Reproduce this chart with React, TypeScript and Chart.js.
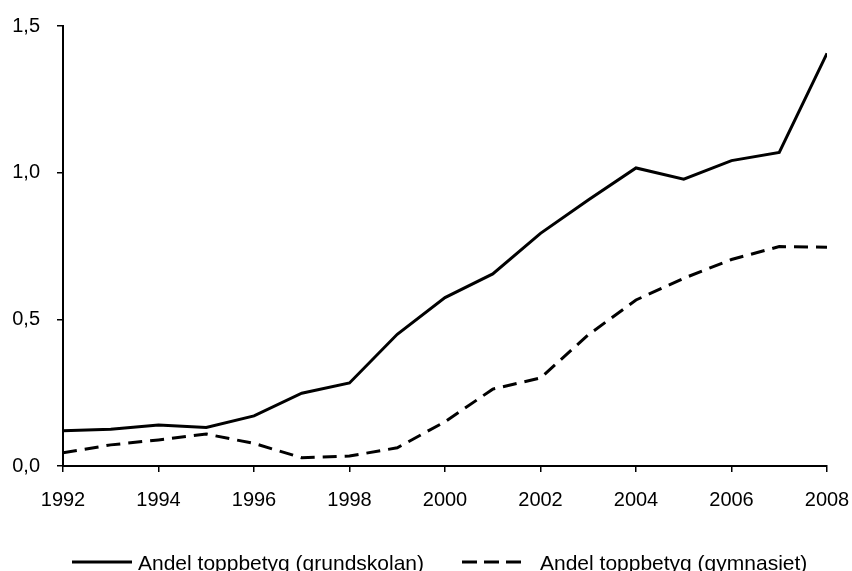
import React, { useEffect, useRef } from "react";
import { Chart, registerables } from "chart.js";

Chart.register(...registerables);

const years = [1992, 1993, 1994, 1995, 1996, 1997, 1998, 1999, 2000, 2001, 2002, 2003, 2004, 2005, 2006, 2007, 2008];
const grundskolan = [0.120, 0.125, 0.140, 0.131, 0.171, 0.248, 0.283, 0.449, 0.574, 0.655, 0.793, 0.907, 1.016, 0.978, 1.041, 1.069, 1.407];
const gymnasiet = [0.045, 0.072, 0.089, 0.109, 0.077, 0.028, 0.034, 0.062, 0.151, 0.262, 0.300, 0.447, 0.566, 0.640, 0.704, 0.748, 0.746];
const seriesLabels = ["Andel toppbetyg (grundskolan)", "Andel toppbetyg (gymnasiet)"];

const FONT = "'Liberation Sans', Arial, sans-serif";
const DASH = [14, 8];

const legendPlugin = {
  id: "customLegend",
  afterDraw(chart: any) {
    const ctx = chart.ctx;
    const lineY = 562;
    const textY = 570;
    const items = [
      { x0: 72, x1: 132, tx: 138 },
      { x0: 462, x1: 521, tx: 540 },
    ];
    chart.data.datasets.forEach((ds: any, i: number) => {
      const it = items[i];
      ctx.save();
      ctx.strokeStyle = "#000";
      ctx.lineWidth = 3;
      ctx.lineCap = "butt";
      ctx.setLineDash(ds.borderDash ? [15, 7] : []);
      ctx.beginPath();
      ctx.moveTo(it.x0, lineY);
      ctx.lineTo(it.x1, lineY);
      ctx.stroke();
      ctx.setLineDash([]);
      ctx.fillStyle = "#000";
      ctx.font = `21px ${FONT}`;
      ctx.textBaseline = "alphabetic";
      ctx.textAlign = "left";
      ctx.fillText(ds.label, it.tx, textY);
      ctx.restore();
    });
  },
};

export default function App() {
  const ref = useRef<HTMLCanvasElement | null>(null);
  useEffect(() => {
    if (!ref.current) return;
    const chart = new Chart(ref.current, {
      type: "line",
      data: {
        datasets: [
          {
            label: seriesLabels[0],
            data: years.map((yr, i) => ({ x: yr, y: grundskolan[i] })),
            borderColor: "#000",
            borderWidth: 3,
            pointRadius: 0,
            tension: 0,
            fill: false,
          },
          {
            label: seriesLabels[1],
            data: years.map((yr, i) => ({ x: yr, y: gymnasiet[i] })),
            borderColor: "#000",
            borderWidth: 3,
            borderDash: DASH,
            borderCapStyle: "butt",
            pointRadius: 0,
            tension: 0,
            fill: false,
          },
        ],
      },
      options: {
        responsive: false,
        animation: false,
        devicePixelRatio: 1,
        layout: { padding: { top: 26, right: 25, bottom: 0, left: 0 } },
        plugins: { legend: { display: false }, tooltip: { enabled: false } },
        scales: {
          x: {
            type: "linear",
            min: 1992,
            max: 2008,
            afterFit: (s: any) => { s.height = 105; s.paddingLeft = 0; s.paddingRight = 0; },
            ticks: {
              stepSize: 2,
              color: "#000",
              font: { family: FONT, size: 20 },
              padding: 16,
              maxRotation: 0,
              callback: (v: any) => String(v),
            },
            grid: { drawOnChartArea: false, drawTicks: true, tickLength: 6, color: "#000", lineWidth: 1.5 },
            border: { display: true, color: "#000", width: 2 },
          },
          y: {
            min: 0,
            max: 1.5,
            afterFit: (s: any) => { s.width = 63; s.paddingTop = 0; s.paddingBottom = 0; },
            ticks: {
              stepSize: 0.5,
              color: "#000",
              font: { family: FONT, size: 20 },
              padding: 17,
              callback: (v: any) => Number(v).toFixed(1).replace(".", ","),
            },
            grid: { drawOnChartArea: false, drawTicks: true, tickLength: 6, color: "#000", lineWidth: 1.5 },
            border: { display: true, color: "#000", width: 2 },
          },
        },
      },
      plugins: [legendPlugin],
    });
    return () => chart.destroy();
  }, []);
  return (
    <div style={{ position: "absolute", left: 0, top: 0, width: 852, height: 571, background: "#fff" }}>
      <canvas ref={ref} width={852} height={571} style={{ display: "block" }} />
    </div>
  );
}
